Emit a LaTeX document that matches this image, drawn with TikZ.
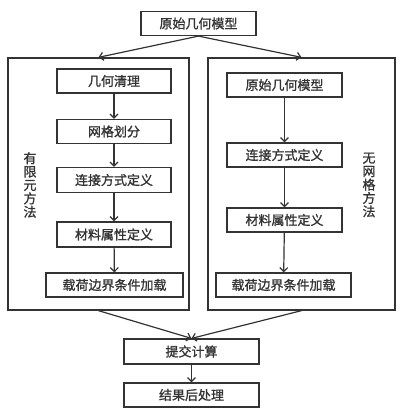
\documentclass[tikz,border=0pt]{standalone}
\usepackage{fontspec}
\setmainfont{Noto Sans CJK SC}[FakeBold=1.2, AutoFakeBold=1.2]
\usetikzlibrary{arrows.meta}
\tikzset{
    box/.style = {draw, line width = 1.2pt, inner sep = 0pt, minimum height = 24pt, font = \fontsize{13}{14}\selectfont\bfseries},
    frame/.style = {draw, line width = 1.3pt, inner sep = 0pt},
    vlabel/.style = {align = center, inner sep = 0pt, font = \fontsize{13}{13.4}\selectfont\bfseries},
    arr/.style = {-{Straight Barb[length = 4pt, width = 8pt]}, line width = 1.2pt}
}
\begin{document}
\begin{tikzpicture}[x = 1pt, y = -1pt, color = black!80]
        \useasboundingbox (0, 0) rectangle (407, 419);
        \node [box, minimum width = 115pt] (model) at (198.5, 23.5) {原始几何模型};

        \node [frame, minimum width = 181pt, minimum height = 252pt] (fem) at (98.5, 184) {};
        \node [frame, minimum width = 187pt, minimum height = 252pt] (mesh) at (301.5, 184) {};
        \node [vlabel] (femlabel) at (30, 185) {有\\限\\元\\方\\法};
        \node [vlabel] (meshlabel) at (369, 185) {无\\网\\格\\方\\法};

        \node [box, minimum width = 114pt] (clean) at (114, 81) {几何清理};
        \node [box, minimum width = 114pt] (grid) at (114, 131.5) {网格划分};
        \node [box, minimum width = 114pt, minimum height = 25pt] (joinl) at (114, 180) {连接方式定义};
        \node [box, minimum width = 114pt, minimum height = 25pt] (matl) at (114, 234.5) {材料属性定义};
        \node [box, minimum width = 137pt] (loadl) at (114.5, 285) {载荷边界条件加载};

        \node [box, minimum width = 115pt] (geomr) at (284.5, 85) {原始几何模型};
        \node [box, minimum width = 115pt] (joinr) at (284.5, 155) {连接方式定义};
        \node [box, minimum width = 115pt] (matr) at (284.5, 220) {材料属性定义};
        \node [box, minimum width = 135pt] (loadr) at (283.5, 285) {载荷边界条件加载};

        \node [box, minimum width = 135pt, minimum height = 25pt] (submit) at (191.5, 351.5) {提交计算};
        \node [box, minimum width = 135pt] (post) at (191.5, 395) {结果后处理};

        \draw [arr] (model.south) -- (fem.north);
        \draw [arr] (model.south) -- (mesh.north);
        \draw [arr] (clean) -- (grid);
        \draw [arr] (grid) -- (joinl);
        \draw [arr] (joinl) -- (matl);
        \draw [arr] (matl) -- (loadl);
        \draw [arr] (geomr) -- (joinr);
        \draw [arr] (joinr) -- (matr);
        \draw [arr] (matr) -- (loadr);
        \draw [arr] (fem.south) -- (submit.north);
        \draw [arr] (mesh.south) -- (submit.north);
        \draw [arr] (submit) -- (post);
    \end{tikzpicture}
\end{document}
